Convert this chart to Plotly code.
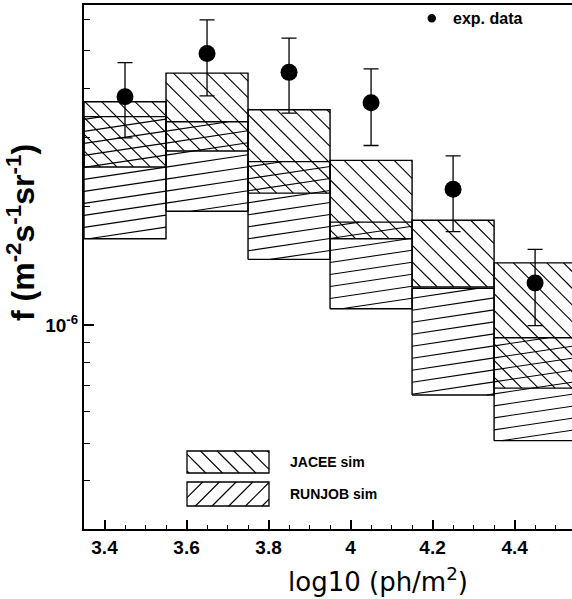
import math
import numpy as np
import plotly.graph_objects as go

# ---------------- data ----------------
bin_centers = [3.45, 3.65, 3.85, 4.05, 4.25, 4.45]
bin_width = 0.2

exp_flux = [3.82e-6, 4.93e-6, 4.41e-6, 3.69e-6, 2.22e-6, 1.28e-6]
exp_hi = [4.67e-6, 6.00e-6, 5.39e-6, 4.50e-6, 2.70e-6, 1.56e-6]
exp_lo = [3.00e-6, 3.84e-6, 3.47e-6, 2.87e-6, 1.73e-6, 0.996e-6]

jacee_hi = [3.71e-6, 4.39e-6, 3.54e-6, 2.63e-6, 1.85e-6, 1.44e-6]
jacee_lo = [2.53e-6, 2.78e-6, 2.17e-6, 1.66e-6, 1.25e-6, 0.69e-6]

runjob_hi = [3.40e-6, 3.30e-6, 2.61e-6, 1.83e-6, 1.24e-6, 0.928e-6]
runjob_lo = [1.66e-6, 1.95e-6, 1.47e-6, 1.10e-6, 0.663e-6, 0.507e-6]

x_tick_vals = [3.4, 3.6, 3.8, 4.0, 4.2, 4.4]
x_tick_labels = ["3.4", "3.6", "3.8", "4", "4.2", "4.4"]
y_tick_vals = [1e-6]
y_tick_labels = ["10<sup>-6</sup>"]

# ---------------- layout geometry ----------------
FW, FH = 572, 599
L, R, T, B = 84, 0, 5, 70
W, H = FW - L - R, FH - T - B
X0, X1 = 3.35, 4.54
Y0, Y1 = -6.5204, -5.1837  # log10 range


def xpx(x):
    return L + (x - X0) / (X1 - X0) * W


def ypx(v):
    return T + (Y1 - math.log10(v)) / (Y1 - Y0) * H


def px2x(p):
    return X0 + (p - L) / W * (X1 - X0)


def px2y(p):
    return 10 ** (Y1 - (p - T) / H * (Y1 - Y0))


def hatch_px(rects, slope, spacing, phase=0.0):
    segs = []
    for (xa, xb, ya, yb) in rects:
        cs = [y - slope * x for x in (xa, xb) for y in (ya, yb)]
        kmin = math.ceil((min(cs) - phase) / spacing)
        kmax = math.floor((max(cs) - phase) / spacing)
        for k in range(kmin, kmax + 1):
            c = phase + k * spacing
            t1 = (ya - c) / slope
            t2 = (yb - c) / slope
            lo = max(xa, min(t1, t2))
            hi = min(xb, max(t1, t2))
            if hi - lo > 0.3:
                segs.append(((lo, slope * lo + c), (hi, slope * hi + c)))
    return segs


def band_traces(lo_vals, hi_vals, slope, spacing, phase):
    rects = []
    ox, oy = [], []
    for c, lo, hi in zip(bin_centers, lo_vals, hi_vals):
        xa, xb = c - bin_width / 2, c + bin_width / 2
        rects.append((xpx(xa), xpx(xb), ypx(hi), ypx(lo)))
        ox += [xa, xb, xb, xa, xa, None]
        oy += [lo, lo, hi, hi, lo, None]
    hx, hy = [], []
    for (p, q) in hatch_px(rects, slope, spacing, phase):
        hx += [px2x(p[0]), px2x(q[0]), None]
        hy += [px2y(p[1]), px2y(q[1]), None]
    hatch = go.Scatter(x=hx, y=hy, mode="lines", line=dict(color="black", width=1.1),
                       hoverinfo="skip", showlegend=False)
    outline = go.Scatter(x=ox, y=oy, mode="lines", line=dict(color="black", width=1.4),
                         hoverinfo="skip", showlegend=False)
    return [hatch, outline]


fig = go.Figure()
for tr in band_traces(runjob_lo, runjob_hi, -0.15, 12.0, 0.0):
    fig.add_trace(tr)
for tr in band_traces(jacee_lo, jacee_hi, 1.0, 16.7, 0.0):
    fig.add_trace(tr)

fig.add_trace(go.Scatter(
    x=bin_centers, y=exp_flux, mode="markers",
    marker=dict(color="black", size=17),
    error_y=dict(type="data", symmetric=False,
                 array=[h - v for h, v in zip(exp_hi, exp_flux)],
                 arrayminus=[v - l for v, l in zip(exp_flux, exp_lo)],
                 color="black", thickness=1.3, width=7.5),
    showlegend=False, hoverinfo="skip"))

# ---------------- legend (drawn manually) ----------------
def pxp(px):
    return (px - L) / W


def pyp(py):
    return (T + H - py) / H


shapes = []
leg_boxes = [((187, 269, 451, 473), 1.0, "JACEE sim"),
             ((187, 269, 482, 506), -1.0, "RUNJOB sim")]
annotations = []
for (xa, xb, ya, yb), slope, label in leg_boxes:
    shapes.append(dict(type="rect", xref="paper", yref="paper",
                       x0=pxp(xa), x1=pxp(xb), y0=pyp(yb), y1=pyp(ya),
                       line=dict(color="black", width=1.3)))
    for (p, q) in hatch_px([(xa, xb, ya, yb)], slope, 16.7, 0.0):
        shapes.append(dict(type="line", xref="paper", yref="paper",
                           x0=pxp(p[0]), y0=pyp(p[1]), x1=pxp(q[0]), y1=pyp(q[1]),
                           line=dict(color="black", width=1.1)))
    annotations.append(dict(xref="paper", yref="paper", x=pxp(288), y=pyp((ya + yb) / 2),
                            xanchor="left", yanchor="middle", showarrow=False, text=label,
                            font=dict(family="Liberation Sans", size=14, color="black", weight="bold")))

# exp. data legend
shapes.append(dict(type="circle", xref="paper", yref="paper",
                   x0=pxp(427.5), x1=pxp(436), y0=pyp(22.5), y1=pyp(14),
                   fillcolor="black", line=dict(color="black", width=0)))
annotations.append(dict(xref="paper", yref="paper", x=pxp(451), y=pyp(18.5),
                        xanchor="left", yanchor="middle", showarrow=False, text="exp. data",
                        font=dict(family="Liberation Sans", size=16, color="black", weight="bold")))

# axis titles
annotations.append(dict(xref="paper", yref="paper", x=pxp(378), y=pyp(580),
                        xanchor="center", yanchor="middle", showarrow=False,
                        text="log10 (ph/m<sup>2</sup>)",
                        font=dict(family="DejaVu Sans", size=26, color="black")))
annotations.append(dict(xref="paper", yref="paper", x=pxp(21), y=pyp(233),
                        xanchor="center", yanchor="middle", showarrow=False, textangle=-90,
                        text="f (m<sup>-2</sup>s<sup>-1</sup>sr<sup>-1</sup>)",
                        font=dict(family="Liberation Sans", size=32, color="black", weight="bold")))

y_minor = [k * 1e-7 for k in range(3, 10)] + [k * 1e-6 for k in range(2, 7)]
x_minor = list(np.round(np.arange(3.35, 4.55, 0.05), 3))

fig.update_layout(
    width=FW, height=FH,
    margin=dict(l=L, r=R, t=T, b=B, pad=0),
    paper_bgcolor="white", plot_bgcolor="white",
    showlegend=False,
    shapes=shapes, annotations=annotations,
    xaxis=dict(range=[X0, X1], tickmode="array", tickvals=x_tick_vals, ticktext=x_tick_labels,
               ticks="inside", ticklen=9, tickwidth=1.5, tickcolor="black",
               minor=dict(tickmode="array", tickvals=x_minor, ticks="inside", ticklen=4.5,
                          tickwidth=1.3, tickcolor="black"),
               showline=True, linewidth=2, linecolor="black", mirror=True,
               showgrid=False, zeroline=False,
               tickfont=dict(family="Liberation Sans", size=19, color="black", weight="bold")),
    yaxis=dict(type="log", range=[Y0, Y1], tickmode="array", tickvals=y_tick_vals,
               ticktext=y_tick_labels,
               ticks="inside", ticklen=10, tickwidth=1.5, tickcolor="black",
               minor=dict(tickmode="array", tickvals=y_minor, ticks="inside", ticklen=6,
                          tickwidth=1.3, tickcolor="black"),
               showline=True, linewidth=2, linecolor="black", mirror=False,
               showgrid=False, zeroline=False,
               tickfont=dict(family="Liberation Sans", size=19, color="black", weight="bold")),
)

fig.write_html("out.html")
